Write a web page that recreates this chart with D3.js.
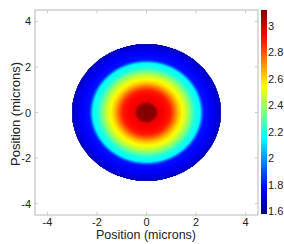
<!DOCTYPE html>
<html>
<head>
<meta charset="utf-8">
<script src="https://cdn.jsdelivr.net/npm/d3@7"></script>
<style>
  body { margin: 0; background: #fff; }
  text { font-family: "Liberation Sans", Arial, sans-serif; fill: #222; }
</style>
</head>
<body>
<svg id="chart" width="284" height="244"></svg>
<script>
// radial profile of the spot (radius in microns -> value)
const radii  = [0, 0.33, 0.4, 0.45, 0.7, 0.95, 1.1, 1.3, 1.45, 1.6, 1.75, 1.88, 1.95, 2.15, 2.2, 2.3, 2.6, 2.9, 3.0];
const values = [3.12, 3.1, 3.06, 2.96, 2.93, 2.89, 2.78, 2.62, 2.54, 2.46, 2.36, 2.26, 2.2, 2.16, 2.0, 1.8, 1.77, 1.7, 1.65];
const edgeRadius = 3.0;

const axisTicks = [-4, -2, 0, 2, 4];
const cbarTicks = [1.6, 1.8, 2, 2.2, 2.4, 2.6, 2.8, 3];
const cbarDomain = [1.58, 3.12];
const xLabel = "Position (microns)";
const yLabel = "Position (microns)";

let svg = d3.select("#chart");

let x = d3.scaleLinear().domain([-4.5, 4.5]).range([35, 258]);
let y = d3.scaleLinear().domain([-4.5, 4.5]).range([215, 10]);

// jet colormap over the colorbar range
let c0 = cbarDomain[0], span = cbarDomain[1] - cbarDomain[0];
let color = d3.scaleLinear()
    .domain([0, 0.125, 0.375, 0.625, 0.875, 1].map(function (t) { return c0 + t * span; }))
    .range(["#00008f", "#0000ff", "#00ffff", "#ffff00", "#ff0000", "#800000"])
    .clamp(true);

let profile = d3.scaleLinear().domain(radii).range(values).clamp(true);

// sample the profile on a grid
const n = 220;
const d = 9 / n;
let grid = new Array(n * n);
for (let j = 0; j < n; j++) {
    for (let i = 0; i < n; i++) {
        let gx = -4.5 + (i + 0.5) * d;
        let gy = -4.5 + (j + 0.5) * d;
        let r = Math.sqrt(gx * gx + gy * gy);
        grid[j * n + i] = r > edgeRadius ? 1.5 : profile(r);
    }
}

const step = 0.015;
let thresholds = d3.range(1.6, 3.12, step);
let contours = d3.contours().size([n, n]).thresholds(thresholds)(grid);

let path = d3.geoPath(d3.geoTransform({
    point: function (px, py) {
        this.stream.point(x(-4.5 + px * d), y(-4.5 + py * d));
    }
}));

svg.append("g")
    .selectAll("path")
    .data(contours)
    .enter().append("path")
    .attr("d", path)
    .attr("fill", function (c) { return color(c.value + step / 2); })
    .attr("stroke", function (c) { return color(c.value + step / 2); })
    .attr("stroke-width", 0.3);

// axes box
let frame = svg.append("g");
frame.append("rect")
    .attr("x", x(-4.5)).attr("y", y(4.5))
    .attr("width", x(4.5) - x(-4.5)).attr("height", y(-4.5) - y(4.5))
    .attr("fill", "none").attr("stroke", "#b8b8b8").attr("stroke-width", 1);

axisTicks.forEach(function (t) {
    frame.append("line").attr("x1", x(t)).attr("x2", x(t)).attr("y1", y(-4.5)).attr("y2", y(-4.5) - 3).attr("stroke", "#c8c8c8");
    frame.append("line").attr("x1", x(t)).attr("x2", x(t)).attr("y1", y(4.5)).attr("y2", y(4.5) + 3).attr("stroke", "#c8c8c8");
    frame.append("line").attr("y1", y(t)).attr("y2", y(t)).attr("x1", x(-4.5)).attr("x2", x(-4.5) + 3).attr("stroke", "#c8c8c8");
    frame.append("line").attr("y1", y(t)).attr("y2", y(t)).attr("x1", x(4.5)).attr("x2", x(4.5) - 3).attr("stroke", "#c8c8c8");
});

svg.append("g").selectAll("text")
    .data(axisTicks)
    .enter().append("text")
    .attr("x", function (t) { return x(t); })
    .attr("y", 226)
    .attr("text-anchor", "middle")
    .attr("font-size", 11)
    .text(function (t) { return t; });

svg.append("g").selectAll("text")
    .data(axisTicks)
    .enter().append("text")
    .attr("x", 31)
    .attr("y", function (t) { return y(t) + 4; })
    .attr("text-anchor", "end")
    .attr("font-size", 11)
    .text(function (t) { return t; });

svg.append("text")
    .attr("x", 146).attr("y", 239)
    .attr("text-anchor", "middle")
    .attr("font-size", 12.5)
    .text(xLabel);

svg.append("text")
    .attr("transform", "translate(20,114) rotate(-90)")
    .attr("text-anchor", "middle")
    .attr("font-size", 13)
    .text(yLabel);

// colorbar
let cy = d3.scaleLinear().domain(cbarDomain).range([214, 10]);
let grad = svg.append("defs").append("linearGradient")
    .attr("id", "jet").attr("x1", 0).attr("x2", 0).attr("y1", 1).attr("y2", 0);
grad.selectAll("stop")
    .data(d3.range(0, 1.0001, 0.025))
    .enter().append("stop")
    .attr("offset", function (t) { return t; })
    .attr("stop-color", function (t) { return color(c0 + t * span); });

svg.append("rect")
    .attr("x", 261).attr("y", cy(cbarDomain[1]))
    .attr("width", 6).attr("height", cy(cbarDomain[0]) - cy(cbarDomain[1]))
    .attr("fill", "url(#jet)");

svg.append("g").selectAll("text")
    .data(cbarTicks)
    .enter().append("text")
    .attr("x", 268)
    .attr("y", function (t) { return cy(t) + 4; })
    .attr("font-size", 11)
    .text(function (t) { return t; });
</script>
</body>
</html>
